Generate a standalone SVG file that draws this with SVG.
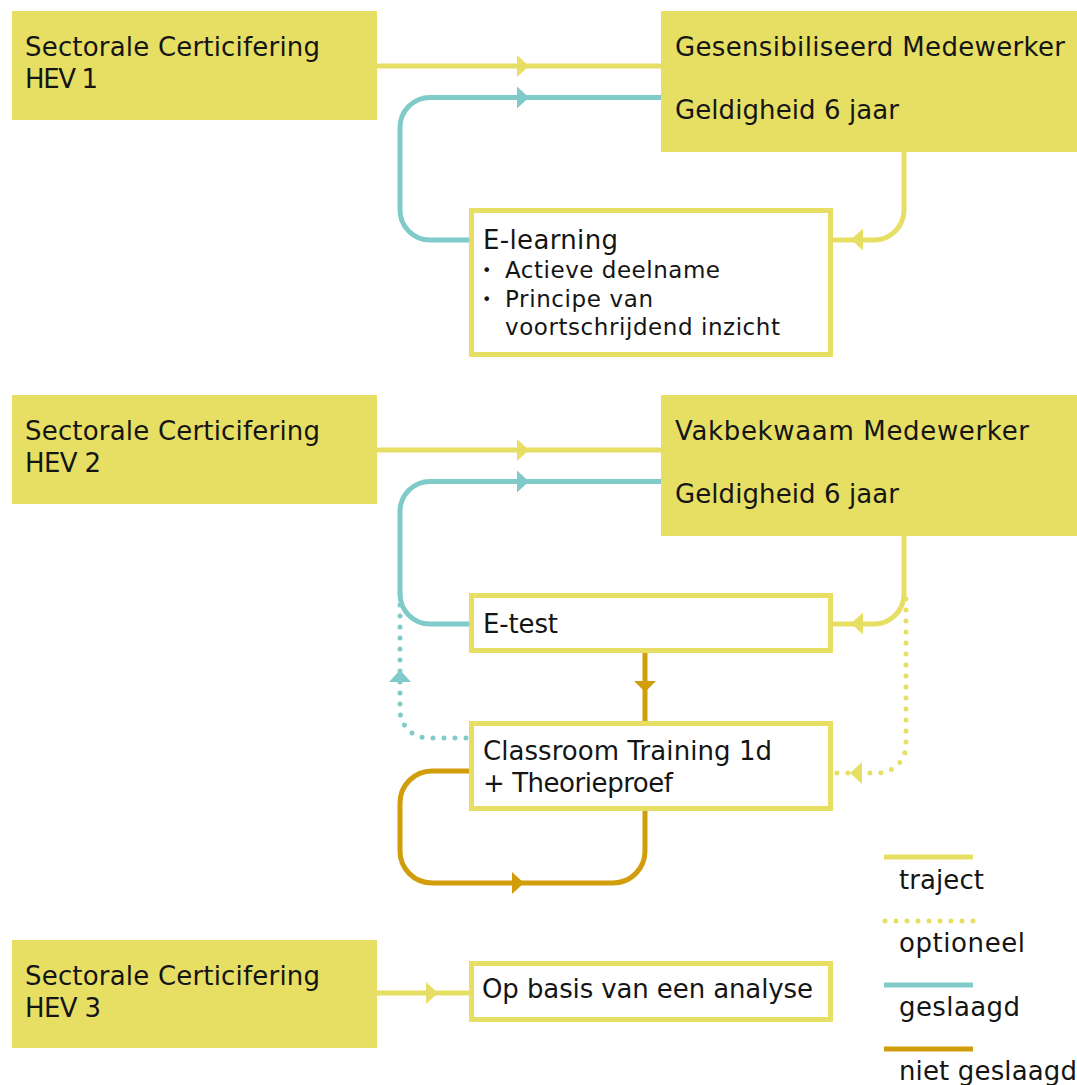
<svg xmlns="http://www.w3.org/2000/svg" width="1077" height="1085" viewBox="0 0 1077 1085">
<style>
text{font-family:"DejaVu Sans","Noto Sans",sans-serif;font-size:26px;fill:#151515}
.sm{font-size:23px}
.bl{font-size:16px}
.solid{fill:#E6DF64}
.box{fill:#fff;stroke:#E6DF64;stroke-width:5}
.ln{fill:none;stroke-width:5}
.y{stroke:#E6DF64}.t{stroke:#80CBCA}.g{stroke:#D29D0B}
.dot{stroke-dasharray:0 11;stroke-linecap:round}
.ay{fill:#E6DF64}.at{fill:#80CBCA}.ag{fill:#D29D0B}
</style>
<rect width="1077" height="1085" fill="#fff"/>
<g id="connectors">
<path class="ln y" d="M377,66 H661"/><polygon class="ay" points="517,55 529,66 517,77"/>
<path class="ln t" d="M661,97.5 H430 A30,30 0 0 0 400,127.5 V210 A30,30 0 0 0 430,240 H469"/><polygon class="at" points="517,86.5 529,97.5 517,108.5"/>
<path class="ln y" d="M904,152 V210 A30,30 0 0 1 874,240 H833"/><polygon class="ay" points="863,228.5 851,239.5 863,250.5"/>
<path class="ln y" d="M377,450 H661"/><polygon class="ay" points="517,439 529,450 517,461"/>
<path class="ln t" d="M661,481.5 H430 A30,30 0 0 0 400,511.5 V594 A30,30 0 0 0 430,624 H469"/><polygon class="at" points="517,470.5 529,481.5 517,492.5"/>
<path class="ln y" d="M904,536 V594 A30,30 0 0 1 874,624 H833"/><polygon class="ay" points="863,612.5 851,623.5 863,634.5"/>
<path class="ln y dot" d="M906,599 V745 A28,28 0 0 1 878,773 H836"/><polygon class="ay" points="862,762 850,773 862,784"/>
<path class="ln t dot" d="M466,738 H428 A28,28 0 0 1 400,710 V588"/><polygon class="at" points="389,682 400,670 411,682"/>
<path class="ln g" d="M645,653 V721"/><polygon class="ag" points="634,681 645,692 656,681"/>
<path class="ln g" d="M469,771 H432 A32,32 0 0 0 400,803 V851 A32,32 0 0 0 432,883 H613 A32,32 0 0 0 645,851 V811"/><polygon class="ag" points="512,872 524,883 512,894"/>
<path class="ln y" d="M377,993 H469"/><polygon class="ay" points="426,982 438,993 426,1004"/>
</g>
<g id="hev1"><rect class="solid" x="12" y="11" width="365" height="109"/><text x="25" y="56" textLength="295">Sectorale Certicifering</text><text x="25" y="88" textLength="73">HEV 1</text></g>
<g id="gesensibiliseerd"><rect class="solid" x="661" y="11" width="416" height="141"/><text x="675" y="56" textLength="390">Gesensibiliseerd Medewerker</text><text x="675" y="119" textLength="224">Geldigheid 6 jaar</text></g>
<g id="elearning"><rect class="box" x="471.5" y="210.5" width="359" height="144"/><text x="483" y="249" textLength="135">E-learning</text>
<text class="bl" x="482" y="276">•</text><text class="sm" x="505" y="278" textLength="215">Actieve deelname</text>
<text class="bl" x="482" y="305">•</text><text class="sm" x="505" y="307" textLength="148">Principe van</text>
<text class="sm" x="505" y="335" textLength="275">voortschrijdend inzicht</text></g>
<g id="hev2"><rect class="solid" x="12" y="395" width="365" height="109"/><text x="25" y="440" textLength="295">Sectorale Certicifering</text><text x="25" y="472" textLength="76">HEV 2</text></g>
<g id="vakbekwaam"><rect class="solid" x="661" y="395" width="416" height="141"/><text x="675" y="440" textLength="354">Vakbekwaam Medewerker</text><text x="675" y="503" textLength="224">Geldigheid 6 jaar</text></g>
<g id="etest"><rect class="box" x="471.5" y="595.5" width="359" height="55"/><text x="483" y="633" textLength="75">E-test</text></g>
<g id="classroom"><rect class="box" x="471.5" y="723.5" width="359" height="85"/><text x="483" y="760" textLength="289">Classroom Training 1d</text><text x="483" y="792" textLength="190">+ Theorieproef</text></g>
<g id="hev3"><rect class="solid" x="12" y="940" width="365" height="108"/><text x="25" y="985" textLength="295">Sectorale Certicifering</text><text x="25" y="1017" textLength="76">HEV 3</text></g>
<g id="analyse"><rect class="box" x="471.5" y="963.5" width="359" height="56"/><text x="482" y="998" textLength="331">Op basis van een analyse</text></g>
<g id="legend">
<path class="ln y" d="M884,857 H973"/><text x="899" y="889" textLength="85">traject</text>
<path class="ln y dot" d="M885,921 H975"/><text x="899" y="952" textLength="126">optioneel</text>
<path class="ln t" d="M884,985 H973"/><text x="899" y="1016" textLength="121">geslaagd</text>
<path class="ln g" d="M884,1049 H973"/><text x="899" y="1080" textLength="178">niet geslaagd</text>
</g>
</svg>
